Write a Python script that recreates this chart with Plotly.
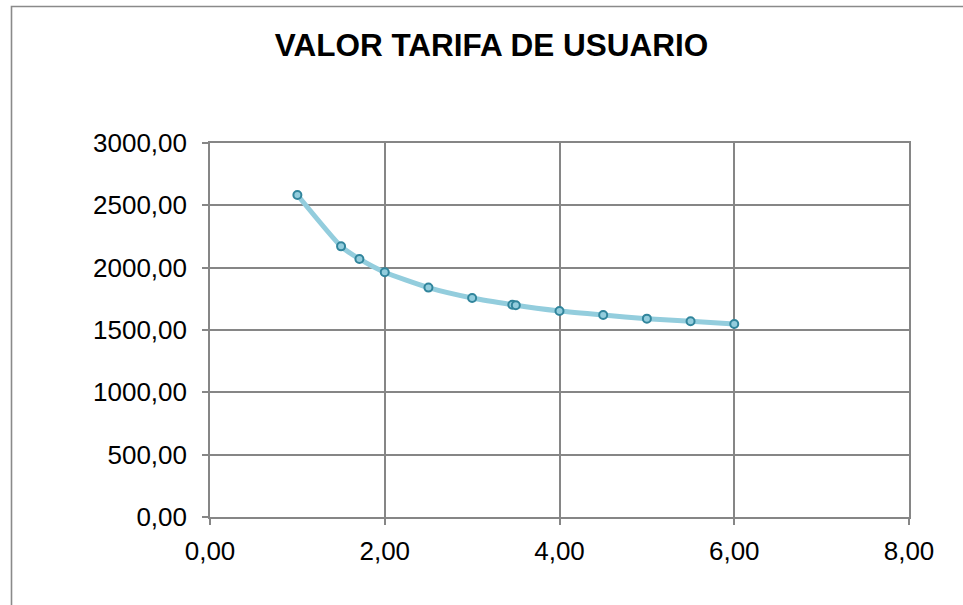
import plotly.graph_objects as go

x_vals = [1.0, 1.5, 1.71, 2.0, 2.5, 3.0, 3.46, 3.5, 4.0, 4.5, 5.0, 5.5, 6.0]
y_vals = [2583, 2171, 2070, 1963, 1840, 1757, 1703, 1698, 1652, 1620, 1591, 1570, 1548]

x_ticks = [0, 2, 4, 6, 8]
x_tick_labels = ["0,00", "2,00", "4,00", "6,00", "8,00"]
y_ticks = [0, 500, 1000, 1500, 2000, 2500, 3000]
y_tick_labels = ["0,00", "500,00", "1000,00", "1500,00", "2000,00", "2500,00", "3000,00"]

W, H = 963, 605
L, R, T, B = 210, 54, 143, 88
pw, ph = W - L - R, H - T - B

fig = go.Figure()
fig.add_trace(go.Scatter(
    x=x_vals, y=y_vals, mode="lines+markers",
    line=dict(color="#93CDDD", width=5, shape="spline", smoothing=0.5),
    marker=dict(symbol="circle", size=8, color="#93CDDD",
                line=dict(color="#31859C", width=2)),
    showlegend=False, hoverinfo="x+y",
))

grid = "#868686"
fig.update_xaxes(range=[0, 8], tickvals=x_ticks, ticktext=x_tick_labels,
                 showgrid=True, gridcolor=grid, gridwidth=1.6,
                 showline=True, linecolor=grid, linewidth=1.6, mirror=True,
                 ticks="outside", ticklen=6, tickcolor=grid, tickwidth=1.6,
                 zeroline=False, ticklabelstandoff=4,
                 tickfont=dict(family="Liberation Sans, Arial", size=26, color="#000"))
fig.update_yaxes(range=[0, 3000], tickvals=y_ticks, ticktext=y_tick_labels,
                 showgrid=True, gridcolor=grid, gridwidth=1.6,
                 showline=True, linecolor=grid, linewidth=1.6, mirror=True,
                 ticks="outside", ticklen=6, tickcolor=grid, tickwidth=1.6,
                 zeroline=False, ticklabelstandoff=10,
                 tickfont=dict(family="Liberation Sans, Arial", size=26, color="#000"))

# outer chart border
fig.add_shape(type="rect", xref="paper", yref="paper",
              x0=(11.5 - L) / pw, x1=(W + 20 - L) / pw,
              y0=-(B + 20) / ph, y1=(H - B - 6.5) / ph,
              line=dict(color="#8a8a8a", width=1.6), fillcolor="rgba(0,0,0,0)", layer="above")

fig.update_layout(
    width=W, height=H,
    margin=dict(l=L, r=R, t=T, b=B),
    paper_bgcolor="white", plot_bgcolor="white",
    title=dict(text="<b>VALOR TARIFA DE USUARIO</b>",
               x=491.5 / W, xref="container", xanchor="center",
               y=1 - 45 / H, yref="container", yanchor="middle",
               font=dict(family="Liberation Sans, Arial", size=31.5, color="#000")),
)

fig.write_html("out.html", config={"displayModeBar": False},
               post_script="document.body.style.margin='0';document.body.style.overflow='hidden';")
